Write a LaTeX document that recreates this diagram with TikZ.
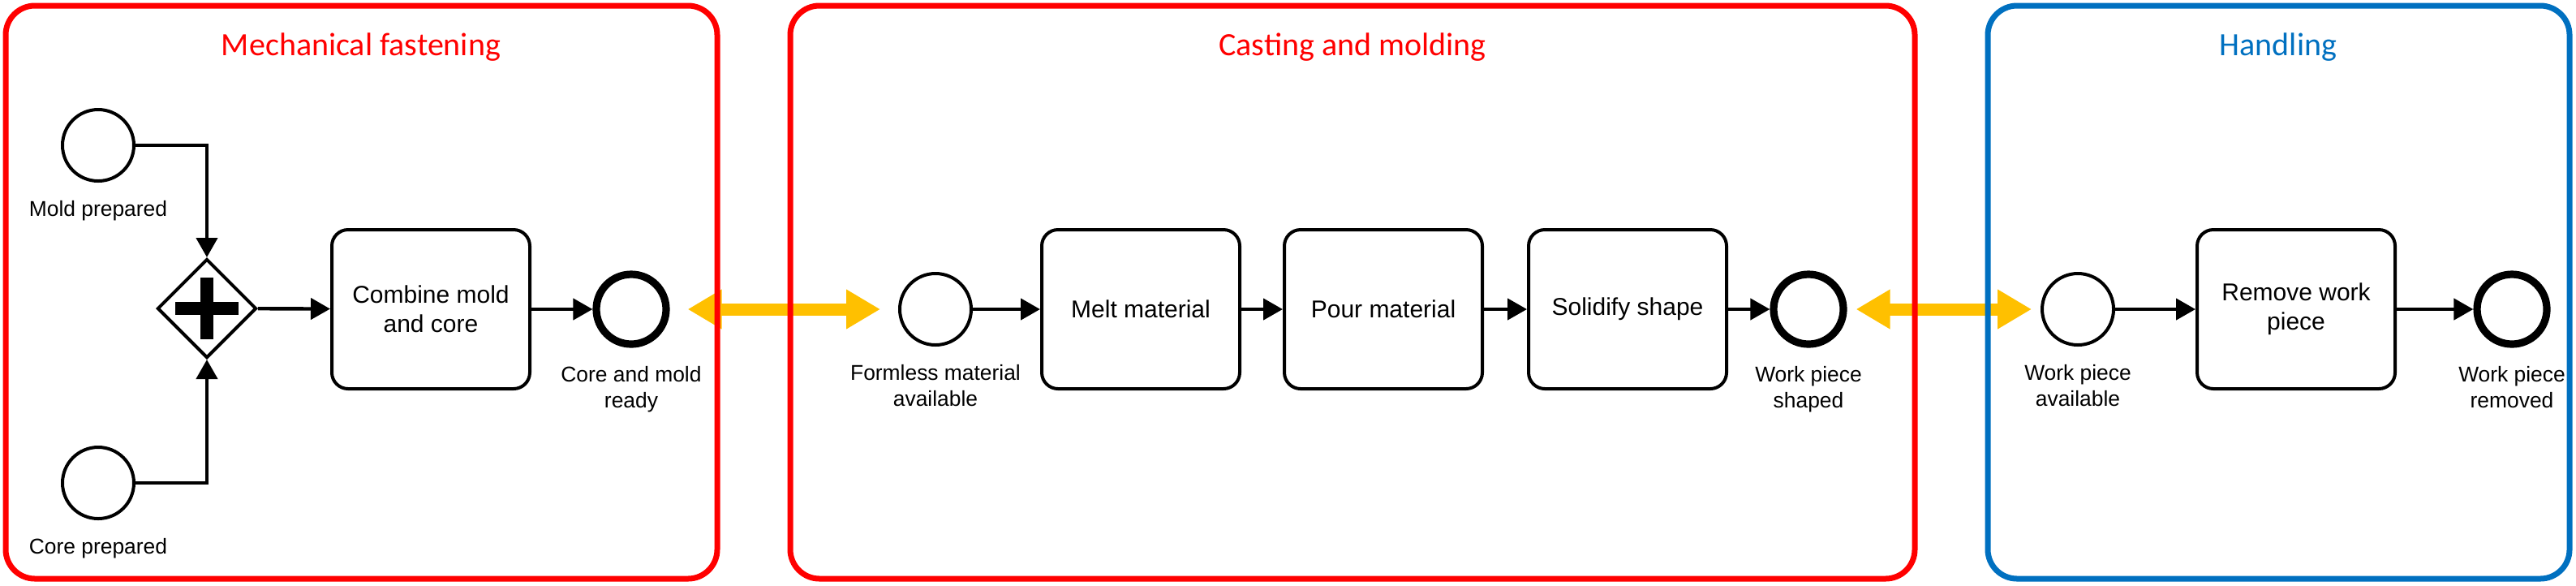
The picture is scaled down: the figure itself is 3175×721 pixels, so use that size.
\documentclass[tikz,border=0pt]{standalone}
\usepackage{fontspec}
\setmainfont{Liberation Sans}
\newfontfamily\titlefont{Carlito}
\usepackage{xcolor}
\usetikzlibrary{shapes.geometric,arrows.meta,positioning}
\definecolor{poolred}{RGB}{255,0,0}
\definecolor{poolblue}{RGB}{0,112,192}
\definecolor{linkgold}{RGB}{255,192,0}

\begin{document}
\begin{tikzpicture}[x=0.25pt,y=-0.25pt,
task/.style={rectangle,draw,line width=1pt,rounded corners=5pt,minimum width=61pt,minimum height=49pt,align=center,font=\fontsize{7.5}{9}\selectfont},
startev/.style={circle,draw,line width=1pt,minimum size=22pt,inner sep=0pt},
endev/.style={circle,draw,line width=2.3pt,minimum size=21.5pt,inner sep=0pt},
gate/.style={diamond,draw,line width=1pt,minimum size=30.5pt,inner sep=0pt,path picture={
   \draw[line width=4pt] ([xshift=-9.75pt]path picture bounding box.center) -- ([xshift=9.75pt]path picture bounding box.center)
   ([yshift=-9.4pt]path picture bounding box.center) -- ([yshift=9.4pt]path picture bounding box.center);}},
evlbl/.style={align=center,inner sep=0pt,font=\fontsize{6.6}{8}\selectfont},
flow/.style={-{Triangle[length=6pt,width=6.5pt]},line width=1.1pt},
link/.style={{Triangle[length=10.5pt,width=11.5pt]}-{Triangle[length=10.5pt,width=11.5pt]},linkgold,line width=3.75pt},
pool/.style={draw=#1,line width=1.75pt,rounded corners=9pt},
pooltitle/.style={anchor=base,text=#1,font=\titlefont\fontsize{10}{12}\selectfont}]
\useasboundingbox (0,0) rectangle (3175,721);
\node[startev] (mold) at (121,179) {};
\node[startev] (core) at (121,595) {};
\node[gate] (gw) at (255,380) {};
\node[task] (combine) at (531,381) {Combine mold\\and core};
\node[endev] (ready) at (778,381) {};
\node[startev] (formless) at (1153,381) {};
\node[task] (melt) at (1406,381) {Melt material};
\node[task] (pour) at (1705,381) {Pour material};
\node[task] (solidify) at (2006,381) {Solidify shape};
\node[endev] (shaped) at (2229,381) {};
\node[startev] (avail) at (2561,381) {};
\node[task] (remove) at (2830,381) {Remove work\\piece};
\node[endev] (removed) at (3096,381) {};
\foreach \n/\t in %
{mold/Mold prepared,core/Core prepared,ready/{Core and mold\\ready},formless/{Formless material\\available},
 shaped/{Work piece\\shaped},avail/{Work piece\\available},removed/{Work piece\\removed}} {
   \node[evlbl,below=5.5pt of \n] (\n-lbl) {\t};
}
\draw[link,shorten <=5.5pt,shorten >=5.5pt] (ready) -- (formless);
\draw[link,shorten <=2.75pt,shorten >=2.75pt] (shaped) -- (avail);
\draw[pool=poolred] (7,7) rectangle (884,713);
\draw[pool=poolred] (974,7) rectangle (2360,713);
\draw[pool=poolblue] (2450,7) rectangle (3167,713);
\node[pooltitle=poolred] (mech) at (445,68) {Mechanical fastening};
\node[pooltitle=poolred] (cast) at (1667,68) {Casting and molding};
\node[pooltitle=poolblue] (hand) at (2808,68) {Handling};
\draw[flow] (mold) -| (gw);
\draw[flow] (core) -| (gw);
\foreach \a/\b in %
{gw/combine,combine/ready,formless/melt,melt/pour,pour/solidify,solidify/shaped,avail/remove,remove/removed} {
   \draw[flow] (\a) -- (\b);
}
\end{tikzpicture}
\end{document}
